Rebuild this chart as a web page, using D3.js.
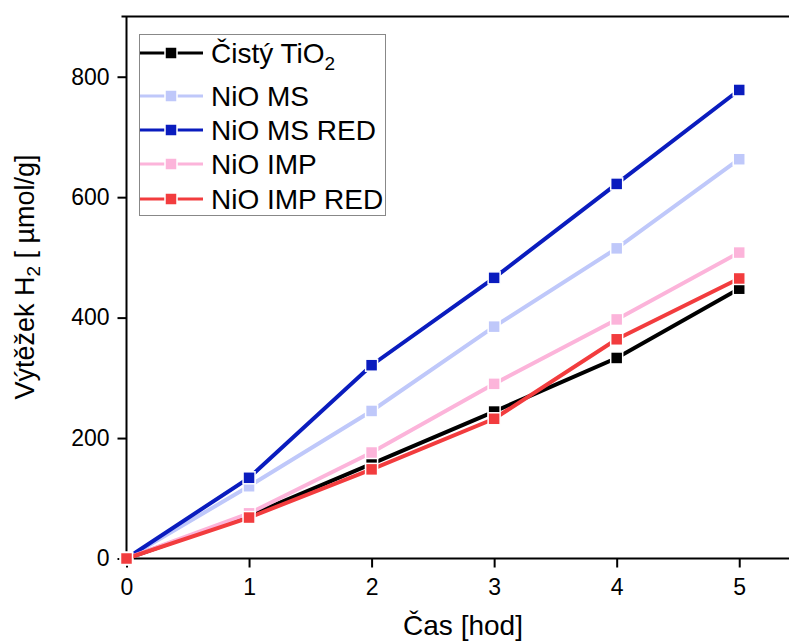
<!DOCTYPE html>
<html><head><meta charset="utf-8">
<script src="https://cdn.jsdelivr.net/npm/d3@7"></script>
<style>
html,body{margin:0;padding:0;background:#fff;}
text{font-family:"Liberation Sans",Arial,sans-serif;fill:#000;}
</style></head>
<body><svg id="c" width="789" height="641"></svg>
<script>
const hours = [0, 1, 2, 3, 4, 5];
const seriesNames = ["Čistý TiO", "NiO MS", "NiO MS RED", "NiO IMP", "NiO IMP RED"];
const seriesColors = ["#000000", "#bfc8fa", "#0a1cbe", "#fcb4da", "#f23c3e"];
const tio2 = [0, 71, 157, 244, 333, 448];
const nioMS = [0, 120, 245, 385, 515, 663];
const nioMSRed = [0, 134, 321, 466, 622, 778];
const nioIMP = [0, 75, 176, 290, 397, 508];
const nioIMPRed = [0, 68, 148, 232, 364, 465];
const xTicks = [0, 1, 2, 3, 4, 5];
const yTicks = [0, 200, 400, 600, 800];
const allSeries = [tio2, nioMS, nioMSRed, nioIMP, nioIMPRed];

const svg = d3.select("#c");
const L = 126.5, R = 800.5, T = 16.5, B = 558.5;
const x = d3.scaleLinear().domain([0, 5.5]).range([L, R]);
const y = d3.scaleLinear().domain([0, 900]).range([B, T]);

// frame top line
svg.append("line").attr("x1", L - 5).attr("x2", 800).attr("y1", T).attr("y2", T)
  .attr("stroke", "#000").attr("stroke-width", 2);

// X axis
const xAxis = svg.append("g").attr("transform", `translate(0,${B})`);
xAxis.call(d3.axisBottom(x).tickValues(d3.range(0.5, 5.6, 1)).tickSize(5).tickFormat(""));
xAxis.call(d3.axisBottom(x).tickValues(xTicks).tickSize(9).tickPadding(11).tickFormat(d3.format("d")));
xAxis.selectAll(".domain").attr("stroke-width", 2).attr("d", `M${L - 1},0H${R}`);
xAxis.selectAll(".tick line").attr("stroke-width", 2);
xAxis.selectAll("text").style("font-size", "23px").attr("font-family", null);

// Y axis
const yAxis = svg.append("g").attr("transform", `translate(${L},0)`);
yAxis.call(d3.axisLeft(y).tickValues([100, 300, 500, 700]).tickSize(7).tickFormat(""));
yAxis.call(d3.axisLeft(y).tickValues(yTicks).tickSize(9).tickPadding(8).tickFormat(d3.format("d")));
yAxis.selectAll(".domain").attr("stroke-width", 2).attr("d", `M0,${B + 1}V${T}`);
yAxis.selectAll(".tick line").attr("stroke-width", 2);
yAxis.selectAll("text").style("font-size", "23px").attr("font-family", null);

// series
const line = d3.line().x((d, i) => x(hours[i])).y(d => y(d));
allSeries.forEach((s, k) => {
  const g = svg.append("g");
  g.append("path").attr("d", line(s)).attr("fill", "none")
    .attr("stroke", seriesColors[k]).attr("stroke-width", 4);
  g.selectAll("rect").data(s).join("rect")
    .attr("x", (d, i) => x(hours[i]) - 6).attr("y", d => y(d) - 6)
    .attr("width", 12).attr("height", 12)
    .attr("fill", seriesColors[k]).attr("stroke", "#fff").attr("stroke-width", 1.5);
});

// axis titles
svg.append("text").attr("x", 463).attr("y", 635).attr("text-anchor", "middle")
  .style("font-size", "28px").text("Čas [hod]");
const yl = svg.append("text").attr("transform", "translate(34,277) rotate(-90)")
  .attr("text-anchor", "middle").style("font-size", "27px");
yl.append("tspan").text("Výtěžek H");
yl.append("tspan").attr("dy", 6).style("font-size", "19px").text("2");
yl.append("tspan").attr("dy", -6).text(" [ µmol/g]");

// legend
const lg = svg.append("g");
lg.append("rect").attr("x", 139.5).attr("y", 34.5).attr("width", 246).attr("height", 181)
  .attr("fill", "#fff").attr("stroke", "#888").attr("stroke-width", 1);
const rowY = [53, 96, 130, 164, 199];
seriesNames.forEach((n, k) => {
  const yy = rowY[k];
  lg.append("line").attr("x1", 140).attr("x2", 203).attr("y1", yy).attr("y2", yy)
    .attr("stroke", seriesColors[k]).attr("stroke-width", 3);
  lg.append("rect").attr("x", 165).attr("y", yy - 6).attr("width", 12).attr("height", 12)
    .attr("fill", seriesColors[k]).attr("stroke", "#fff").attr("stroke-width", 1.5);
  const t = lg.append("text").attr("x", 211).attr("y", yy + 10).style("font-size", "28px").text(n);
  if (k === 0) t.append("tspan").attr("dy", 7).style("font-size", "19px").text("2");
});
</script></body></html>
